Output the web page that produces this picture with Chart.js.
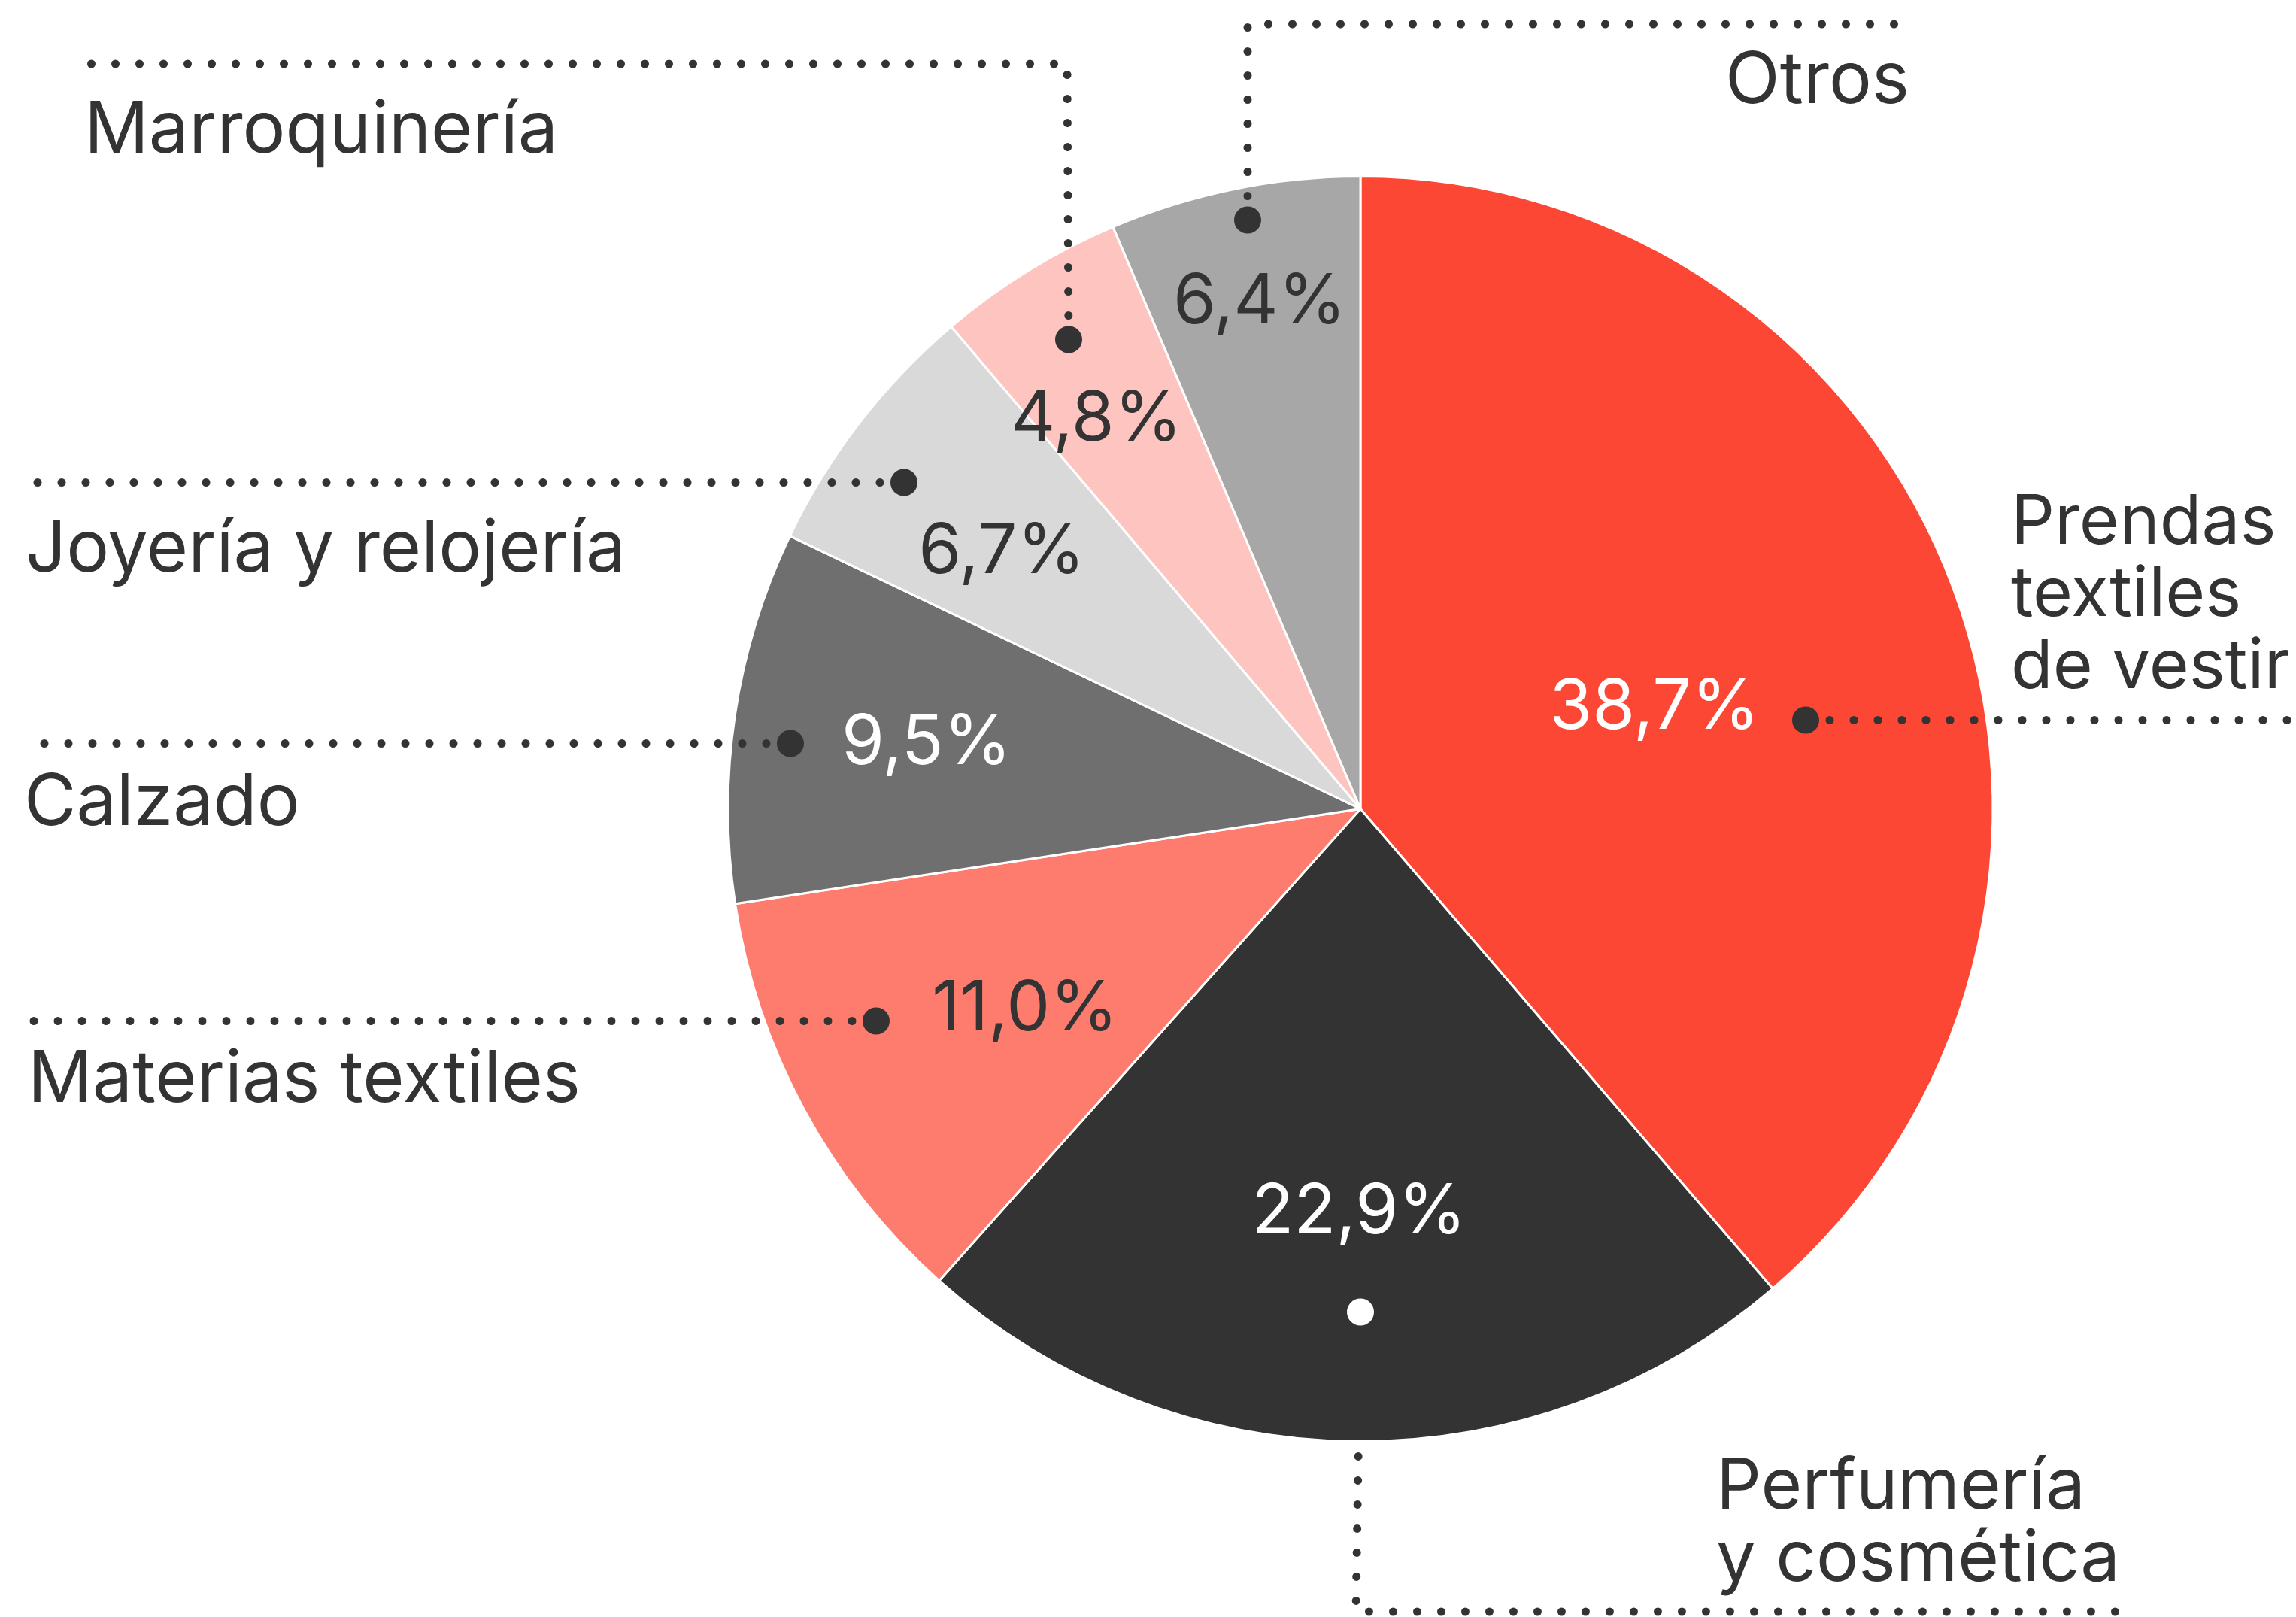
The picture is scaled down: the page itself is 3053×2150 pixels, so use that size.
<!DOCTYPE html>
<html>
<head>
<meta charset="utf-8">
<script src="https://cdn.jsdelivr.net/npm/chart.js@4.4.1/dist/chart.umd.min.js"></script>
<style>
  html, body { margin: 0; padding: 0; background: #fff; }
  canvas { display: block; }
</style>
</head>
<body>
<canvas id="chart-area" width="3053" height="2150"></canvas>
<script>
'use strict';

// data, clockwise from 12 o'clock
var categories = ['Prendas textiles de vestir', 'Perfumería y cosmética', 'Materias textiles',
   'Calzado', 'Joyería y relojería', 'Marroquinería', 'Otros'];
var shares = [38.7, 22.9, 11.0, 9.5, 6.7, 4.8, 6.4];
var sliceColors = ['#fc4735', '#333333', '#fd7c6e', '#6f6f6f', '#d9d9d9', '#fec5c0', '#a7a7a7'];

// annotation layout (not data): value label / dot offsets from pie centre,
// leader paths and category text in page pixels
var ink = '#333333';
var layout = [
   { value: [391, -134], valueColor: '#fff', dot: [592, -118], dotColor: ink, size: 91,
     path: [[0, 0], [3060, 958]], lines: ['Prendas', 'textiles', 'de vestir'], tx: 2674, ty: 723 },
   { value: [-2, 537], valueColor: '#fff', dot: [0, 669], dotColor: '#fff', size: 94,
     path: [[0, 0], [1803, 2143], [2825, 2143]], lines: ['Perfumería', 'y cosmética'], tx: 2282, ty: 2006 },
   { value: [-446, 267], valueColor: ink, dot: [-644, 282], dotColor: ink, size: 95,
     path: [[0, 0], [40, 1358]], lines: ['Materias textiles'], tx: 37, ty: 1465 },
   { value: [-577, -87], valueColor: '#fff', dot: [-758, -87], dotColor: ink, size: 95,
     path: [[0, 0], [38, 989]], lines: ['Calzado'], tx: 32, ty: 1097 },
   { value: [-477, -341], valueColor: ink, dot: [-607, -434], dotColor: ink, size: 95,
     path: [[0, 0], [38, 642]], lines: ['Joyería y relojería'], tx: 34, ty: 760 },
   { value: [-351, -517], valueColor: ink, dot: [-388, -624], dotColor: ink, size: 95,
     path: [[0, 0], [1419, 85], [116, 85]], lines: ['Marroquinería'], tx: 112, ty: 203 },
   { value: [-134, -673], valueColor: ink, dot: [-150, -783], dotColor: ink, size: 95,
     path: [[0, 0], [1659, 32], [2530, 32]], lines: ['Otros'], tx: 2294, ty: 137 }
];
var fontFamily = 'Inter, "Noto Sans", sans-serif';
var valueFont = '400 92px ' + fontFamily;

var annotations = {
   id: 'annotations',
   afterDraw: function (chart) {
      var ctx = chart.ctx;
      var arcs = chart.getDatasetMeta(0).data;
      var cx = arcs[0].x, cy = arcs[0].y;
      ctx.save();
      layout.forEach(function (item, i) {
         var dx = cx + item.dot[0], dy = cy + item.dot[1];
         // dotted leader, starting at the dot
         ctx.beginPath();
         item.path.forEach(function (p, k) {
            var px = k === 0 ? dx : p[0];
            var py = k === 0 ? dy : p[1];
            if (k === 1) {
               // keep first segment straight (horizontal or vertical)
               if (Math.abs(p[0] - dx) < Math.abs(p[1] - dy)) px = p[0];
               else py = dy;
            }
            if (k === 0) ctx.moveTo(px, py); else ctx.lineTo(px, py);
         });
         ctx.setLineDash([0, 32]);
         ctx.lineCap = 'round';
         ctx.lineWidth = 11;
         ctx.strokeStyle = ink;
         ctx.stroke();
         ctx.setLineDash([]);

         ctx.beginPath();
         ctx.arc(dx, dy, 18, 0, Math.PI * 2);
         ctx.fillStyle = item.dotColor;
         ctx.fill();

         // value label
         ctx.font = valueFont;
         ctx.textAlign = 'center';
         ctx.textBaseline = 'middle';
         ctx.fillStyle = item.valueColor;
         ctx.fillText(shares[i].toFixed(1).replace('.', ',') + '%', cx + item.value[0], cy + item.value[1]);

         // category label
         ctx.font = '400 ' + item.size + 'px ' + fontFamily;
         ctx.textAlign = 'left';
         ctx.textBaseline = 'alphabetic';
         ctx.fillStyle = ink;
         item.lines.forEach(function (line, k) {
            ctx.fillText(line, item.tx, item.ty + k * 96);
         });
      });
      ctx.restore();
   }
};

var config = {
   type: 'pie',
   data: {
      labels: categories,
      datasets: [{
         data: shares,
         backgroundColor: sliceColors,
         borderColor: '#ffffff',
         borderWidth: 3
      }]
   },
   options: {
      responsive: false,
      animation: false,
      layout: { padding: { left: 966, right: 401, top: 233, bottom: 232 } },
      plugins: {
         legend: { display: false },
         tooltip: { enabled: false }
      }
   },
   plugins: [annotations]
};

window.onload = function () {
   var ctx = document.getElementById('chart-area').getContext('2d');
   window.myPie = new Chart(ctx, config);
};
</script>
</body>
</html>
